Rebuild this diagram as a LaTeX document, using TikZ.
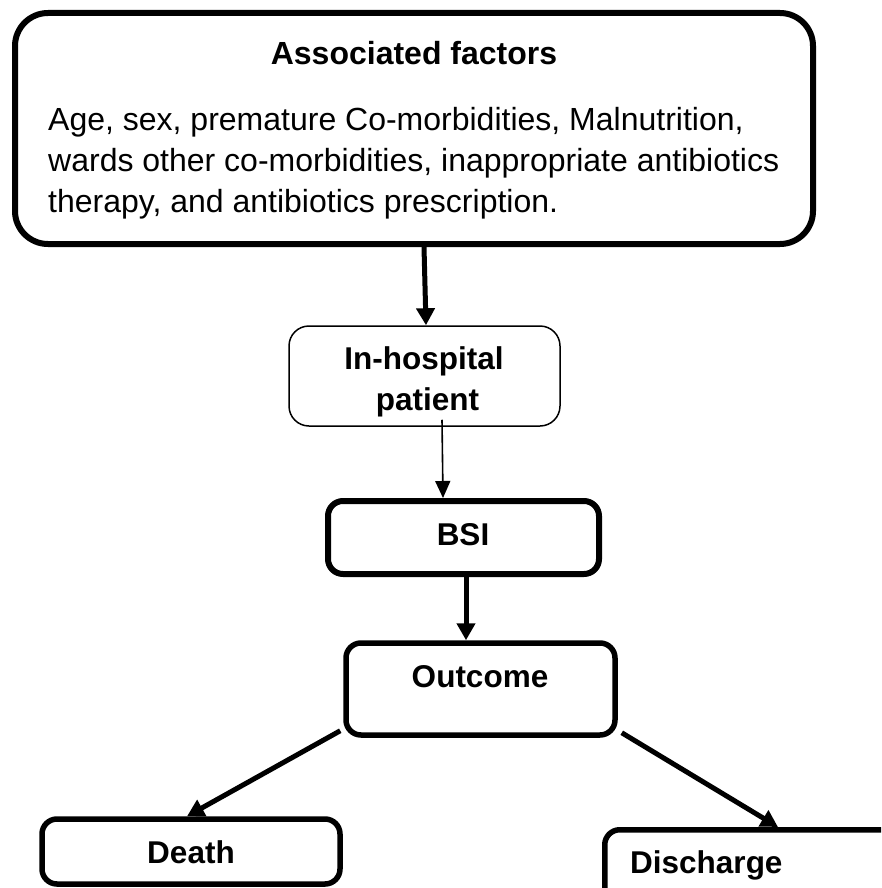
\documentclass[tikz,border=0pt]{standalone}
\usepackage{fontspec}
\setmainfont{Liberation Sans}
\usetikzlibrary{arrows.meta}
\begin{document}
\begin{tikzpicture}[x=1pt,y=-1pt,
  box/.style={draw, rounded corners=15pt, line width=5.5pt, inner sep=0pt},
  thinbox/.style={draw, rounded corners=20pt, line width=1.5pt, inner sep=0pt},
  lbl/.style={inner sep=0pt, font=\fontsize{31.5pt}{40.5pt}\selectfont\bfseries},
  toplbl/.style={inner sep=0pt, font=\fontsize{32pt}{40.5pt}\selectfont\bfseries},
  txt/.style={inner sep=0pt, font=\fontsize{32pt}{40.5pt}\selectfont},
  bigarrow/.style={line width=5pt, -{Triangle[length=17pt,width=18pt]}},
  smallarrow/.style={line width=1.6pt, -{Triangle[length=17pt,width=15pt]}}]
\clip (0,0) rectangle (881,888);
\path[use as bounding box] (0,0) rectangle (881,888);

\node[box, line width=6pt, rounded corners=33pt, minimum width=798pt, minimum height=231pt] (afbox) at (414,128.5) {};
\node[toplbl, anchor=base] (aftitle) at (414,65) {Associated factors};
\node[txt, anchor=base west] (af1) at (48,131) {Age, sex, premature Co-morbidities, Malnutrition,};
\node[txt, anchor=base west] (af2) at (48,171.5) {wards other co-morbidities, inappropriate antibiotics};
\node[txt, anchor=base west] (af3) at (48,212) {therapy, and antibiotics prescription.};

\node[thinbox, minimum width=271pt, minimum height=100pt] (hosp) at (424.5,376) {};
\node[lbl, anchor=base] (hosp1) at (424,369) {In-hospital};
\node[lbl, anchor=base] (hosp2) at (427.5,410) {patient};

\node[box, line width=6pt, minimum width=271pt, minimum height=73pt] (bsi) at (463.5,537.5) {};
\node[lbl, anchor=base] (bsitext) at (463,545) {BSI};

\node[box, minimum width=269pt, minimum height=92pt] (out) at (480.5,689) {};
\node[lbl, anchor=base] (outtext) at (480,687) {Outcome};

\node[box, minimum width=298pt, minimum height=65pt] (death) at (191,851.5) {};
\node[lbl, anchor=base] (deathtext) at (191,863) {Death};

\node[box, minimum width=315pt, minimum height=90pt, anchor=north west] (dis) at (602,827) {};
\node[lbl, anchor=base west] (distext) at (630,873) {Discharge};

\draw[bigarrow] ([xshift=10pt]afbox.south) -- ([xshift=1.5pt]hosp.north);
\draw[smallarrow] ([xshift=17.5pt,yshift=7pt]hosp.south) -- ([xshift=-20.5pt]bsi.north);
\draw[bigarrow] ([xshift=2.5pt]bsi.south) -- ([xshift=-14.5pt]out.north);
\draw[bigarrow] ([xshift=-3pt,yshift=7pt]out.south west) -- ([xshift=-4pt]death.north);
\draw[bigarrow] ([xshift=4pt,yshift=5pt]out.south east) -- ([xshift=176pt]dis.north west);
\end{tikzpicture}
\end{document}
